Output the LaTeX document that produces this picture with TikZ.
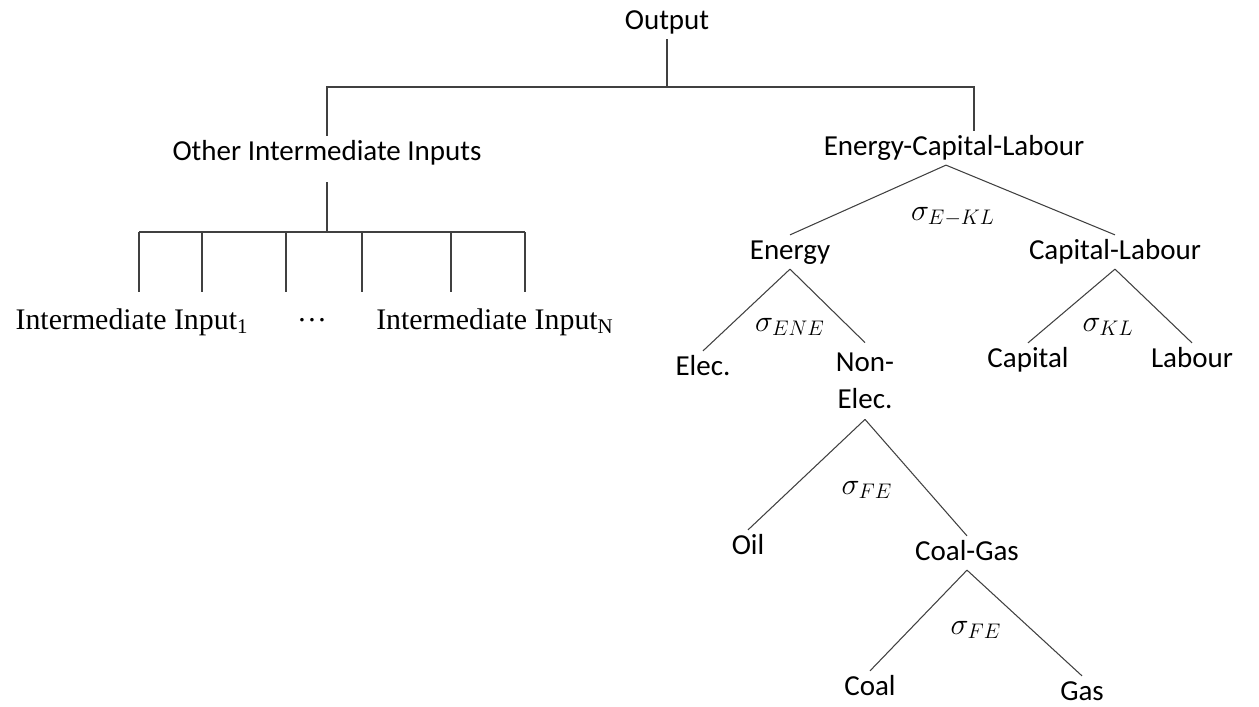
\documentclass[tikz,border=0pt]{standalone}
\usepackage{fontspec}
\usepackage{amsmath}
\usetikzlibrary{positioning}
\newfontfamily\carlito{Carlito}
\newfontfamily\libserif{Liberation Serif}

\begin{document}
\begin{tikzpicture}[x=0.02cm,y=-0.02cm,line width=0.6pt,
    base font/.style={font=\carlito\fontsize{16.5}{21}\selectfont},
    main node/.style={base font,inner sep=0pt,outer sep=2pt,text height=12pt,text depth=3.5pt},
    input node/.style={font=\libserif\fontsize{17}{20}\selectfont,inner sep=0pt},
    sigma node/.style={font=\fontsize{17}{20}\selectfont,inner sep=0pt}]
  \useasboundingbox (0,0) rectangle (1259,707);
  \begin{scope}[draw=black!75]
    % top level
    \node[main node] (output) at (667,22) {Output};
    \node[main node] (oii) at (327,153) {Other Intermediate Inputs};
    \node[main node] (ecl) at (954,148) {Energy-Capital-Labour};
    \coordinate (topbar) at (667,87);
    \draw (output.south) -- (topbar);
    \draw (oii.north) -- (oii.north |- topbar) -- ([xshift=0.4cm]ecl.north |- topbar) -- ([xshift=0.4cm]ecl.north);

    % other intermediate inputs
    \coordinate (lowbar) at (0,232);
    \draw[shorten <=7pt] (oii.south) -- (oii.south |- lowbar);
    \foreach \x [count=\i] in {139,202,286,362,451,525} {
      \coordinate (stub\i) at (\x,292);
      \draw (stub\i |- lowbar) -- (stub\i);
    }
    \draw (stub1 |- lowbar) -- (stub6 |- lowbar);
    \node[input node] (in1) at (132,322) {Intermediate Input\textsubscript{1}};
    \node[input node] (dots) at (312,320) {…};
    \node[input node] (inN) at (495,322) {Intermediate Input\textsubscript{N}};

    % energy-capital-labour nest
    \node[main node] (energy) at (790,252) {Energy};
    \node[main node] (cl) at (1115,252) {Capital-Labour};
    \node[main node] (elec) at (703,368) {Elec.};
    \node[base font,align=center,inner sep=0pt,outer sep=6pt] (nonelec) at (865,381) {Non-\\Elec.};
    \node[main node] (capital) at (1028,360) {Capital};
    \node[main node] (labour) at (1192,360) {Labour};
    \node[main node] (oil) at (748,547) {Oil};
    \node[main node] (coalgas) at (967,553) {Coal-Gas};
    \node[main node] (coal) at (870,688) {Coal};
    \node[main node] (gas) at (1082,693) {Gas};

    \node[sigma node] (s1) at (953,217) {$\sigma_{E-KL}$};
    \node[sigma node] (s2) at (790,327) {$\sigma_{ENE}$};
    \node[sigma node] (s3) at (1108,327) {$\sigma_{KL}$};
    \node[sigma node] (s4) at (867,490) {$\sigma_{FE}$};
    \node[sigma node] (s5) at (976,630) {$\sigma_{FE}$};

    \path ([xshift=-0.16cm]ecl.south) edge (energy.north) edge (cl.north);
    \path (energy.south) edge (elec.north) edge (nonelec.north);
    \path (cl.south) edge (capital.north) edge (labour.north);
    \path (nonelec.south) edge (oil.north) edge (coalgas.north);
    \path (coalgas.south) edge (coal.north) edge (gas.north);
  \end{scope}
\end{tikzpicture}
\end{document}
